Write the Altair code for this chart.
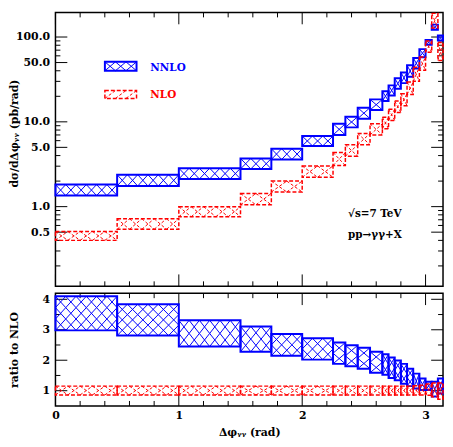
import altair as alt
import pandas as pd

# ---------------- data ----------------
edges = [0.0, 0.5, 1.0, 1.5, 1.75, 2.0, 2.25, 2.35, 2.45, 2.55, 2.65, 2.7,
         2.75, 2.8, 2.85, 2.9, 2.95, 3.0, 3.05, 3.1, 3.1416]
nnlo_lo = [1.35, 1.75, 2.12, 2.78, 3.6, 5.2, 7.0, 8.6, 10.9, 13.8, 17.6, 20.5,
           24.6, 28.6, 34.1, 42.5, 57.8, 81.0, 122.0, 91.0]
nnlo_hi = [1.82, 2.38, 2.84, 3.70, 4.82, 6.8, 9.5, 11.5, 14.7, 18.4, 22.9, 26.9,
           32.6, 38.2, 46.4, 56.7, 72.0, 92.0, 140.0, 104.0]
nlo_lo = [0.40, 0.54, 0.76, 1.05, 1.49, 2.22, 3.05, 3.93, 5.36, 7.0, 8.3, 10.4,
          12.9, 15.5, 21.0, 30.0, 40.6, 66.0, 128.0, 53.0]
nlo_hi = [0.51, 0.72, 1.0, 1.43, 2.0, 3.02, 4.35, 5.36, 7.3, 9.5, 11.3, 14.1,
          17.6, 21.5, 29.5, 44.0, 58.0, 90.0, 190.0, 86.0]
ratio_nnlo_lo = [2.98, 2.81, 2.45, 2.28, 2.15, 2.02, 1.88, 1.80, 1.72, 1.59, 1.52,
                 1.42, 1.34, 1.23, 1.15, 1.07, 1.02, 1.02, 0.81, 0.91]
ratio_nnlo_hi = [4.10, 3.84, 3.31, 3.11, 2.86, 2.72, 2.58, 2.49, 2.41, 2.28, 2.20,
                 2.09, 1.99, 1.88, 1.72, 1.56, 1.40, 1.29, 1.29, 1.40]
ratio_nlo_lo = [0.86, 0.86, 0.86, 0.86, 0.86, 0.86, 0.86, 0.86, 0.86, 0.86, 0.86,
                0.86, 0.86, 0.86, 0.86, 0.86, 0.86, 0.85, 0.80, 0.72]
ratio_nlo_hi = [1.15, 1.15, 1.15, 1.15, 1.15, 1.15, 1.15, 1.15, 1.15, 1.15, 1.15,
                1.15, 1.15, 1.15, 1.15, 1.16, 1.18, 1.22, 1.25, 1.25]

x_ticks_major = [0, 1, 2, 3]
x_ticks_minor = [0.2, 0.4, 0.6, 0.8, 1.2, 1.4, 1.6, 1.8, 2.2, 2.4, 2.6, 2.8]
top_ticks_long = [0.5, 1, 5, 10, 50, 100]
top_ticks_short = [0.2, 0.3, 0.4, 0.6, 0.7, 0.8, 0.9, 2, 3, 4, 6, 7, 8, 9,
                   20, 30, 40, 60, 70, 80, 90]
bot_ticks_long = [1, 2, 3, 4]
bot_ticks_short = [1.5, 2.5, 3.5]

# ---------------- style ----------------
W = 392
H_TOP = 277
H_BOT = 114
FONT = "DejaVu Serif"
BLUE = "#0000ff"
RED = "#ff0000"
DASH = [4, 2]
LONG, SHORT = 12, 5

xs = alt.Scale(domain=[0, 3.1416], nice=False, zero=False)
ys_top = alt.Scale(type="log", domain=[0.115, 195], nice=False)
ys_bot = alt.Scale(domain=[0.5, 4.2], nice=False, zero=False)

bins = pd.DataFrame({
    "x0": edges[:-1], "x1": edges[1:],
    "nnlo_lo": nnlo_lo, "nnlo_hi": nnlo_hi,
    "nlo_lo": nlo_lo, "nlo_hi": nlo_hi,
    "r_nnlo_lo": ratio_nnlo_lo, "r_nnlo_hi": ratio_nnlo_hi,
    "r_nlo_lo": ratio_nlo_lo, "r_nlo_hi": ratio_nlo_hi,
})


def hatch_df(lo_col, hi_col, cell_w, row_h=None, log=False):
    rows = []
    for _, r in bins.iterrows():
        x0, x1, lo, hi = r["x0"], r["x1"], r[lo_col], r[hi_col]
        nc = max(1, round((x1 - x0) / cell_w))
        nr = 1 if row_h is None else max(1, round((hi - lo) / row_h))
        for i in range(nc):
            xa = x0 + (x1 - x0) * i / nc
            xb = x0 + (x1 - x0) * (i + 1) / nc
            for j in range(nr):
                if log:
                    ya = lo * (hi / lo) ** (j / nr)
                    yb = lo * (hi / lo) ** ((j + 1) / nr)
                else:
                    ya = lo + (hi - lo) * j / nr
                    yb = lo + (hi - lo) * (j + 1) / nr
                rows.append({"xa": xa, "xb": xb, "ya": ya, "yb": yb})
                rows.append({"xa": xa, "xb": xb, "ya": yb, "yb": ya})
    return pd.DataFrame(rows)


def make_panel(ys, yaxis, xaxis, H, band_specs, ylong, yshort, extra):
    def X(field):
        return alt.X(field, scale=xs, axis=xaxis)

    def Y(field):
        return alt.Y(field, scale=ys, axis=yaxis)

    layers = []
    # ticks (inward, on all four sides)
    for vals, L in ((ylong, LONG), (yshort, SHORT)):
        base = alt.Chart(pd.DataFrame({"v": vals})).mark_rule(color="black", strokeWidth=1)
        layers.append(base.encode(y=Y("v:Q"), x=alt.value(0), x2=alt.value(L)))
        layers.append(base.encode(y=Y("v:Q"), x=alt.value(W), x2=alt.value(W - L)))
    for vals, L in ((x_ticks_major, LONG), (x_ticks_minor, SHORT)):
        base = alt.Chart(pd.DataFrame({"v": vals})).mark_rule(color="black", strokeWidth=1)
        layers.append(base.encode(x=X("v:Q"), y=alt.value(H), y2=alt.value(H - L)))
        layers.append(base.encode(x=X("v:Q"), y=alt.value(0), y2=alt.value(L)))
    # bands with hatching
    for lo_col, hi_col, color, dashed, cell_w, row_h, log in band_specs:
        kw = dict(fill="white", fillOpacity=0, stroke=color,
                  strokeWidth=1.5 if dashed else 2)
        if dashed:
            kw["strokeDash"] = DASH
        layers.append(alt.Chart(bins).mark_rect(**kw).encode(
            x=X("x0:Q"), x2="x1:Q", y=Y(f"{lo_col}:Q"), y2=f"{hi_col}:Q"))
        hk = dict(color=color, strokeWidth=1)
        if dashed:
            hk["strokeDash"] = [3, 2]
        df = hatch_df(lo_col, hi_col, cell_w, row_h=row_h, log=log)
        layers.append(alt.Chart(df).mark_rule(**hk).encode(
            x=X("xa:Q"), x2="xb:Q", y=Y("ya:Q"), y2="yb:Q"))
    layers += extra
    return alt.layer(*layers).properties(width=W, height=H)


one = pd.DataFrame({"a": [0]})


def seg(x1, y1, x2, y2, color, dashed):
    kw = dict(color=color, strokeWidth=1)
    if dashed:
        kw["strokeDash"] = [3, 2]
    return alt.Chart(one).mark_rule(**kw).encode(
        x=alt.value(x1), y=alt.value(y1), x2=alt.value(x2), y2=alt.value(y2))


def label(txt, x, y, color, size=10.5, align="left"):
    return alt.Chart(one).mark_text(
        text=txt, font=FONT, fontWeight="bold", fontSize=size, color=color,
        align=align, baseline="middle").encode(x=alt.value(x), y=alt.value(y))


# ---------------- top panel ----------------
top_axis = alt.Axis(values=top_ticks_long, format=".1f", title="dσ/dΔφᵧᵧ (pb/rad)",
                    labelPadding=6, labelOverlap=False, titleX=-36, titleY=122)

lx0, lx1 = 50, 82
by0, by1 = 50, 59
ry0, ry1 = 79, 87
legend = [
    alt.Chart(one).mark_rect(fill="white", fillOpacity=0, stroke=BLUE, strokeWidth=2)
    .encode(x=alt.value(lx0), x2=alt.value(lx1), y=alt.value(by0), y2=alt.value(by1)),
    alt.Chart(one).mark_rect(fill="white", fillOpacity=0, stroke=RED, strokeWidth=1.5,
                             strokeDash=DASH)
    .encode(x=alt.value(lx0), x2=alt.value(lx1), y=alt.value(ry0), y2=alt.value(ry1)),
]
cw = (lx1 - lx0) / 3
for i in range(3):
    a, b = lx0 + i * cw, lx0 + (i + 1) * cw
    legend.append(seg(a, by0, b, by1, BLUE, False))
    legend.append(seg(a, by1, b, by0, BLUE, False))
    legend.append(seg(a, ry1, b, ry0, RED, True))
legend += [
    label("NNLO", 96, 56, BLUE),
    label("NLO", 96, 84, RED),
    label("√s=7 TeV", 296, 204, "black"),
    label("pp→γγ+X", 296, 225, "black"),
]

top = make_panel(
    ys_top, top_axis, None, H_TOP,
    [("nnlo_lo", "nnlo_hi", BLUE, False, 0.085, None, True),
     ("nlo_lo", "nlo_hi", RED, True, 0.1, None, True)],
    top_ticks_long, top_ticks_short, legend)

# ---------------- bottom panel ----------------
bot_yaxis = alt.Axis(values=bot_ticks_long, format="d", title="ratio to NLO",
                     labelPadding=6, titleX=-36)
bot_xaxis = alt.Axis(values=x_ticks_major, format="d", title="Δφᵧᵧ (rad)",
                     labelPadding=4, titlePadding=6, labelFlush=False)

bot = make_panel(
    ys_bot, bot_yaxis, bot_xaxis, H_BOT,
    [("r_nnlo_lo", "r_nnlo_hi", BLUE, False, 0.085, 0.36, False),
     ("r_nlo_lo", "r_nlo_hi", RED, True, 0.1, None, False)],
    bot_ticks_long, bot_ticks_short, [])

chart = (
    alt.vconcat(top, bot, spacing=3)
    .properties(padding=0)
    .configure_axis(labelFont=FONT, labelFontSize=11, labelFontWeight="bold",
                    labelColor="black", titleFont=FONT, titleFontSize=11,
                    titleFontWeight="bold", titleColor="black",
                    ticks=False, domain=False, grid=False)
    .configure_view(stroke="black", strokeWidth=1.5)
)

chart.save("out.html", embed_options={"renderer": "svg", "actions": False})
